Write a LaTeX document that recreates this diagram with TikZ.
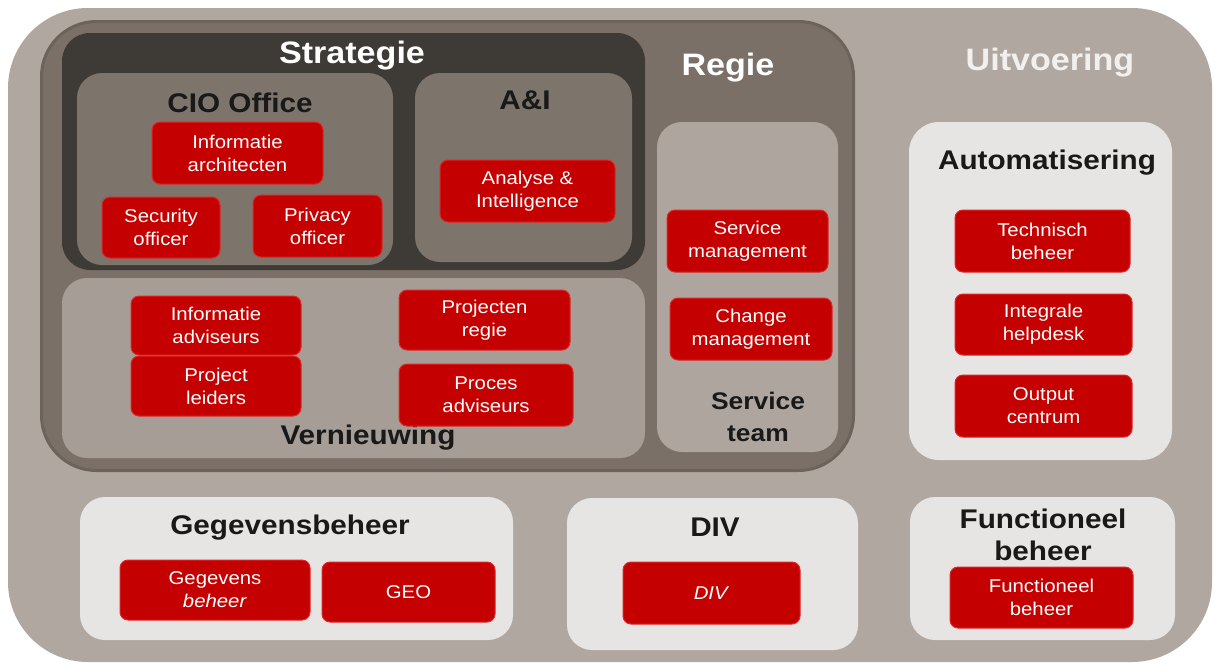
\documentclass[tikz,border=0pt]{standalone}
\usepackage{fontspec}
\setmainfont{Liberation Sans}[FakeStretch=1.1]
\usepackage{xcolor}
\usetikzlibrary{positioning}
\definecolor{bgtaupe}{RGB}{176,168,160}
\definecolor{regietaupe}{RGB}{122,112,103}
\definecolor{regieshade}{RGB}{108,99,91}
\definecolor{stratdark}{RGB}{62,58,54}
\definecolor{midtaupe}{RGB}{125,116,108}
\definecolor{vernieuw}{RGB}{166,158,150}
\definecolor{teamtaupe}{RGB}{174,166,158}
\definecolor{lightgrey}{RGB}{231,229,227}
\definecolor{orgred}{RGB}{196,0,0}
\definecolor{orgredline}{RGB}{220,40,40}
\definecolor{offwhite}{RGB}{242,240,238}
\tikzset{
    panel/.style={inner sep=0pt, rounded corners=25pt},
    redbox/.style={draw=orgredline, line width=1pt, fill=orgred, rounded corners=8pt, align=center,
                   text=white, font=\fontsize{18.5}{23}\selectfont, inner sep=0pt},
    ttlw/.style={text=white, font=\fontsize{31}{34}\selectfont\bfseries, inner sep=0pt},
    ttlb/.style={text=black!90, font=\fontsize{27}{32}\selectfont\bfseries, inner sep=0pt, align=center},
}
\begin{document}
\begin{tikzpicture}[x=1pt, y=-1pt]
    \useasboundingbox (0,0) rectangle (1214,670);
    % achtergrond
    \node[panel, fill=bgtaupe, rounded corners=80pt, minimum width=1204, minimum height=654] (uitv) at (610,335) {};
    \node[panel, fill=regietaupe, draw=regieshade, line width=3pt, rounded corners=55pt, minimum width=812, minimum height=449] (regie) at (447.5,246) {};
    \node[panel, fill=stratdark, rounded corners=28pt, minimum width=583, minimum height=237] (strat) at (353.5,151.5) {};
    \node[panel, fill=midtaupe, minimum width=316, minimum height=192] (cio) at (235,169) {};
    \node[panel, fill=midtaupe, minimum width=217, minimum height=189] (ai) at (523.5,167.5) {};
    \node[panel, fill=vernieuw, minimum width=583, minimum height=180] (vern) at (353.5,368) {};
    \node[panel, fill=teamtaupe, minimum width=181, minimum height=330] (team) at (747.5,287) {};
    \node[panel, fill=lightgrey, rounded corners=30pt, minimum width=263, minimum height=338] (auto) at (1040.5,291) {};
    \node[panel, fill=lightgrey, minimum width=433, minimum height=143] (gegev) at (296.5,568.5) {};
    \node[panel, fill=lightgrey, minimum width=291, minimum height=152] (div) at (712.5,574) {};
    \node[panel, fill=lightgrey, minimum width=265, minimum height=143] (func) at (1042.5,568.5) {};
    % titels
    \node[ttlw] (tstrat) at (352,56) {Strategie};
    \node[ttlw] (tregie) at (728,68) {Regie};
    \node[ttlw, text=offwhite] (tuitv) at (1050,63) {Uitvoering};
    \node[ttlb] (tcio) at (240,103) {CIO Office};
    \node[ttlb] (tai) at (525,100) {A\&I};
    \node[ttlb] (tvern) at (368,438) {Vernieuwing};
    \node[ttlb, font=\fontsize{24}{32}\selectfont\bfseries] (tteam) at (758,417) {Service\\team};
    \node[ttlb] (tauto) at (1047,163) {Automatisering};
    \node[ttlb] (tgegev) at (290,528) {Gegevensbeheer};
    \node[ttlb] (tdiv) at (715,527) {DIV};
    \node[ttlb, font=\fontsize{27}{32}\selectfont\bfseries] (tfunc) at (1043,535) {Functioneel\\beheer};
    % rode blokken
    \node[redbox, minimum width=171, minimum height=62] (infarch) at (237.5,153) {Informatie\\architecten};
    \node[redbox, minimum width=118, minimum height=61] (secoff) at (161,227.5) {Security\\officer};
    \node[redbox, minimum width=129, minimum height=62] (privoff) at (317.5,226) {Privacy\\officer};
    \node[redbox, minimum width=175, minimum height=62] (anaint) at (527.5,191) {Analyse \&\\Intelligence};
    \node[redbox, minimum width=170, minimum height=59] (infadv) at (216,325.5) {Informatie\\adviseurs};
    \node[redbox, minimum width=170, minimum height=60, below=0pt of infadv] (projlei) {Project\\leiders};
    \node[redbox, minimum width=171, minimum height=60] (projregie) at (484.5,320) {Projecten\\regie};
    \node[redbox, minimum width=174, minimum height=62] (procadv) at (486,395) {Proces\\adviseurs};
    \node[redbox, minimum width=161, minimum height=62] (servman) at (747.5,241) {Service\\management};
    \node[redbox, minimum width=162, minimum height=62] (chgman) at (751,329) {Change\\management};
    \node[redbox, minimum width=175, minimum height=62] (techbeh) at (1042.5,241) {Technisch\\beheer};
    \node[redbox, minimum width=177, minimum height=61] (helpdesk) at (1043.5,324.5) {Integrale\\helpdesk};
    \node[redbox, minimum width=177, minimum height=62] (outcen) at (1043.5,406) {Output\\centrum};
    \node[redbox, minimum width=190, minimum height=60] (gegbeh) at (215,590) {Gegevens\\\textit{beheer}};
    \node[redbox, minimum width=173, minimum height=60] (geo) at (408.5,592) {GEO};
    \node[redbox, minimum width=177, minimum height=62] (divred) at (711.5,593) {\textit{DIV}};
    \node[redbox, minimum width=183, minimum height=61] (funcbeh) at (1041.5,597.5) {Functioneel\\beheer};
\end{tikzpicture}
\end{document}
